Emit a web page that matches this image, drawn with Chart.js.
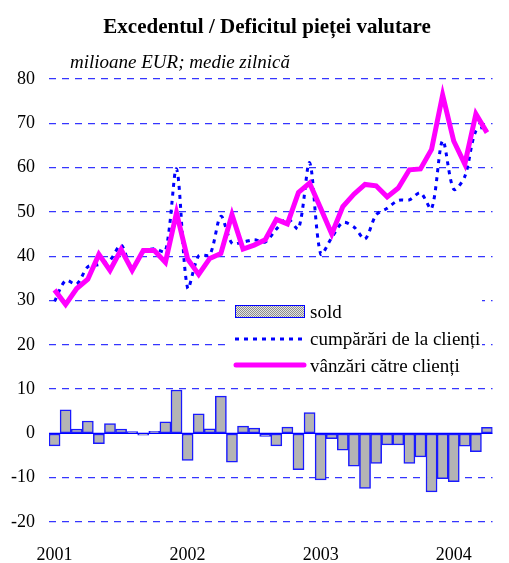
<!DOCTYPE html>
<html>
<head>
<meta charset="utf-8">
<script src="https://cdn.jsdelivr.net/npm/chart.js@4"></script>
<style>
  body { margin: 0; background: #fff; }
  canvas { display: block; }
</style>
</head>
<body>
<canvas id="myChart" width="509" height="563"></canvas>
<script>
// Monthly data, Jan 2001 - Apr 2004 (milioane EUR, medie zilnica)
const years = ['2001', '2002', '2003', '2004'];
const months = [];
for (const y of years) {
    for (let m = 1; m <= 12; m++) {
        if (y === '2004' && m > 4) break;
        months.push(y + '-' + m);
    }
}

const sold = [-2.8, 5.3, 1.0, 2.8, -2.3, 2.2, 1.0, 0.4, -0.4, 0.45, 2.6, 9.8,
    -6.1, 4.4, 1.05, 8.4, -6.5, 1.65, 1.2, -0.7, -2.8, 1.4, -8.2, 4.7,
    -10.5, -1.2, -3.8, -7.4, -12.4, -6.8, -2.6, -2.6, -6.8, -5.3, -13.2, -10.2,
    -10.9, -2.9, -4.1, 1.35];

const cumparari = [29.8, 34.5, 33.7, 37.6, 38.1, 39.1, 42.5, 37.2, 40.9, 41.7, 41.1, 59.7,
    32.8, 40.1, 40.3, 49.0, 42.9, 43.2, 43.7, 43.2, 46.1, 48.5, 46.2, 61.1,
    40.5, 44.2, 47.6, 46.6, 43.9, 49.3, 50.8, 52.6, 52.7, 54.3, 50.7, 66.1,
    55.1, 58.0, 68.3, 69.3];

const vanzari = [32.4, 29.1, 32.7, 34.8, 40.4, 36.8, 41.5, 36.8, 41.3, 41.3, 38.6, 49.8,
    39.4, 35.9, 39.5, 40.6, 49.4, 41.6, 42.5, 43.7, 48.3, 47.3, 54.4, 56.5,
    50.8, 45.0, 51.2, 54.0, 56.2, 55.9, 53.4, 55.4, 59.5, 59.7, 64.1, 76.4,
    66.0, 60.8, 72.1, 67.9];

const yTicks = [-20, -10, 0, 10, 20, 30, 40, 50, 60, 70, 80];

const titleText = 'Excedentul / Deficitul pieței valutare';
const subtitleText = 'milioane EUR; medie zilnică';
const labelSold = 'sold';
const labelBuy = 'cumpărări de la clienți';
const labelSell = 'vânzări către clienți';

const serif = '"Liberation Serif", "Times New Roman", serif';
const barGray = '#b4b4b4';
const blue = '#0000ff';
const pink = '#ff00ff';

// checker pattern for the legend swatch
function checker() {
    const c = document.createElement('canvas');
    c.width = 2; c.height = 2;
    const g = c.getContext('2d');
    g.fillStyle = '#e4e4e4'; g.fillRect(0, 0, 2, 2);
    g.fillStyle = '#8c8c8c'; g.fillRect(0, 0, 1, 1); g.fillRect(1, 1, 1, 1);
    return g.createPattern(c, 'repeat');
}

// Titles, zero line and the legend box inside the plot
const extras = {
    id: 'extras',
    beforeDatasetsDraw(chart) {
        const {ctx, chartArea, scales} = chart;
        const y0 = scales.y.getPixelForValue(0);
        ctx.save();
        ctx.strokeStyle = blue;
        ctx.lineWidth = 1.2;
        ctx.beginPath();
        ctx.moveTo(chartArea.left, y0);
        ctx.lineTo(chartArea.right, y0);
        ctx.stroke();
        ctx.restore();
    },
    afterDraw(chart) {
        const ctx = chart.ctx;
        ctx.save();
        ctx.fillStyle = '#000';
        ctx.textBaseline = 'alphabetic';
        ctx.textAlign = 'center';
        ctx.font = 'bold 21px ' + serif;
        ctx.fillText(titleText, 267, 33);
        ctx.textAlign = 'left';
        ctx.font = 'italic 19px ' + serif;
        ctx.fillText(subtitleText, 70, 68);

        // legend
        ctx.fillStyle = '#fff';
        ctx.fillRect(228, 294, 254, 86);
        ctx.fillStyle = checker();
        ctx.fillRect(235, 305, 70, 13);
        ctx.strokeStyle = blue;
        ctx.lineWidth = 1;
        ctx.strokeRect(235.5, 305.5, 69, 12);

        ctx.strokeStyle = blue;
        ctx.lineWidth = 3;
        ctx.setLineDash([4, 5]);
        ctx.beginPath();
        ctx.moveTo(235, 339);
        ctx.lineTo(305, 339);
        ctx.stroke();

        ctx.setLineDash([]);
        ctx.strokeStyle = pink;
        ctx.lineWidth = 5;
        ctx.lineCap = 'round';
        ctx.beginPath();
        ctx.moveTo(236, 365);
        ctx.lineTo(304, 365);
        ctx.stroke();

        ctx.fillStyle = '#000';
        ctx.font = '19px ' + serif;
        ctx.fillText(labelSold, 310, 318);
        ctx.fillText(labelBuy, 310, 345);
        ctx.fillText(labelSell, 310, 372);
        ctx.restore();
    }
};

const ctx = document.getElementById('myChart').getContext('2d');

const myChart = new Chart(ctx, {
    type: 'bar',
    data: {
        labels: months,
        datasets: [
            {
                type: 'line',
                label: labelSell,
                data: vanzari,
                borderColor: pink,
                borderWidth: 5,
                pointRadius: 0,
                tension: 0,
                order: 1
            },
            {
                type: 'line',
                label: labelBuy,
                data: cumparari,
                borderColor: blue,
                borderWidth: 3,
                borderDash: [4, 5],
                pointRadius: 0,
                tension: 0.3,
                order: 2
            },
            {
                type: 'bar',
                label: labelSold,
                data: sold,
                backgroundColor: barGray,
                borderColor: '#1a1aff',
                borderWidth: 1.5,
                borderSkipped: false,
                barPercentage: 1,
                categoryPercentage: 1,
                order: 3
            }
        ]
    },
    options: {
        responsive: false,
        devicePixelRatio: 1,
        animation: false,
        layout: { padding: { top: 79, right: 1, left: 0, bottom: 0 } },
        plugins: {
            legend: { display: false },
            title: { display: false },
            tooltip: { enabled: false }
        },
        scales: {
            x: {
                grid: { display: false, drawTicks: false },
                border: { display: false },
                ticks: {
                    autoSkip: false,
                    maxRotation: 0,
                    padding: 22,
                    color: '#000',
                    font: { family: serif, size: 18 },
                    callback: (val, idx) => idx % 12 === 0 ? years[idx / 12] : ''
                },
                afterFit: (scale) => { scale.height = 41; }
            },
            y: {
                min: -20,
                max: 80,
                afterBuildTicks: (scale) => { scale.ticks = yTicks.map(v => ({value: v})); },
                grid: {
                    color: (c) => c.tick && c.tick.value === 0 ? 'rgba(0,0,0,0)' : '#3535ff',
                    lineWidth: 1.2,
                    drawTicks: false
                },
                border: { display: false, dash: [7, 6] },
                ticks: {
                    padding: 14,
                    color: '#000',
                    font: { family: serif, size: 18 }
                },
                afterFit: (scale) => { scale.width = 49; }
            }
        }
    },
    plugins: [extras]
});
</script>
</body>
</html>
